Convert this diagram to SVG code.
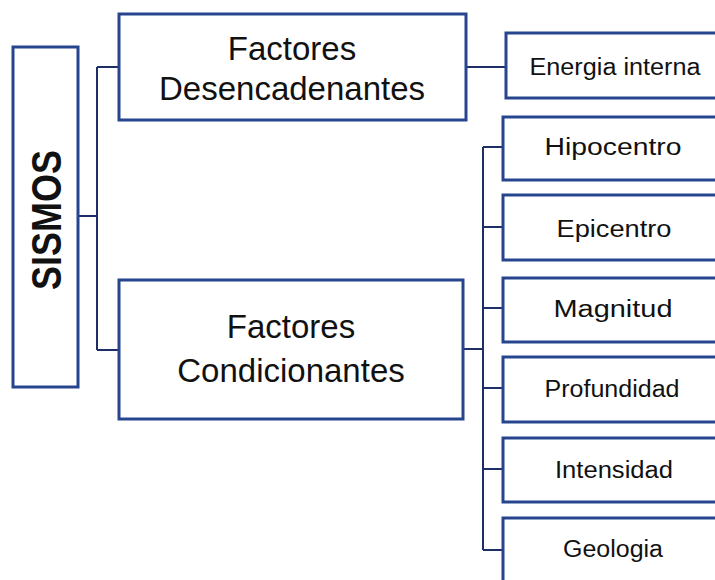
<svg xmlns="http://www.w3.org/2000/svg" width="715" height="580" viewBox="0 0 715 580">
<style>
.box{fill:#fff;stroke:#27458f;stroke-width:3}
.ln{fill:none;stroke:#1d2f66;stroke-width:2}
.t{font-family:"Liberation Sans",Arial,sans-serif;fill:#111;text-anchor:middle}
.big{font-size:33px}
.sm{font-size:23px}
</style>
<rect width="715" height="580" fill="#fff"/>
<g id="connectors">
<path class="ln" d="M78 216 H97 M97 67 V350 M97 67 H119 M97 350 H119"/>
<path class="ln" d="M466 67 H506"/>
<path class="ln" d="M463 349 H483 M483 147 V550 M483 147 H503 M483 227 H503 M483 308 H503 M483 388 H503 M483 469 H503 M483 550 H503"/>
</g>
<g id="sismos">
<rect class="box" x="13" y="47" width="65" height="340"/>
<text class="t" transform="translate(61,220) rotate(-90)" font-size="42" font-weight="bold" textLength="140" lengthAdjust="spacingAndGlyphs">SISMOS</text>
</g>
<g id="desencadenantes">
<rect class="box" x="119" y="14" width="347" height="106"/>
<text class="t big" x="292" y="60">Factores</text>
<text class="t big" x="292" y="100">Desencadenantes</text>
</g>
<g id="condicionantes">
<rect class="box" x="119" y="280" width="344" height="139"/>
<text class="t big" x="291" y="338">Factores</text>
<text class="t big" x="291" y="382">Condicionantes</text>
</g>
<g id="energia">
<rect class="box" x="506" y="33" width="215" height="65"/>
<text class="t sm" x="615" y="75" textLength="171" lengthAdjust="spacingAndGlyphs">Energia interna</text>
</g>
<g id="hipocentro">
<rect class="box" x="503" y="117" width="218" height="63"/>
<text class="t sm" x="613" y="155" textLength="137" lengthAdjust="spacingAndGlyphs">Hipocentro</text>
</g>
<g id="epicentro">
<rect class="box" x="503" y="195" width="218" height="65"/>
<text class="t sm" x="614" y="237" textLength="115" lengthAdjust="spacingAndGlyphs">Epicentro</text>
</g>
<g id="magnitud">
<rect class="box" x="503" y="278" width="218" height="64"/>
<text class="t sm" x="613" y="317" textLength="119" lengthAdjust="spacingAndGlyphs">Magnitud</text>
</g>
<g id="profundidad">
<rect class="box" x="503" y="357" width="218" height="65"/>
<text class="t sm" x="612" y="397" textLength="135" lengthAdjust="spacingAndGlyphs">Profundidad</text>
</g>
<g id="intensidad">
<rect class="box" x="503" y="438" width="218" height="64"/>
<text class="t sm" x="614" y="478" textLength="118" lengthAdjust="spacingAndGlyphs">Intensidad</text>
</g>
<g id="geologia">
<rect class="box" x="503" y="518" width="218" height="70"/>
<text class="t sm" x="613" y="557" textLength="100" lengthAdjust="spacingAndGlyphs">Geologia</text>
</g>
</svg>
